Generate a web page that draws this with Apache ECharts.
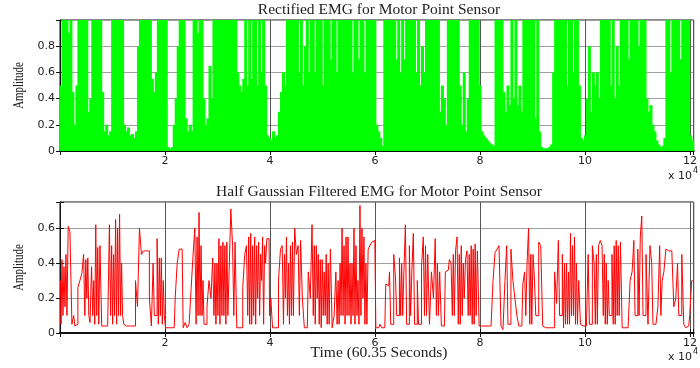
<!DOCTYPE html>
<html>
<head>
<meta charset="utf-8">
<title>Motor Point Sensor EMG</title>
<script src="https://cdn.jsdelivr.net/npm/echarts@6/dist/echarts.min.js"></script>
<style>
  html, body { margin: 0; padding: 0; background: #fff; }
  #chart { width: 700px; height: 368px; }
</style>
</head>
<body>
<div id="chart"></div>
<script>
// Recording length: 60.35 s sampled at 2 kHz
const totalSamples = 120700;

// Rectified EMG: burst peak per window (values clip at 1)
const rectPeak = [
  0.5,
  1, 1, 1, 0.9, 1,
  0.45, 0.2, 0.5,
  1, 1, 1, 1, 1,
  0.3, 0.4,
  1, 1, 1, 1, 1,
  0.45, 0.15, 0.2, 0.12, 0.15,
  1, 1, 1, 1, 1, 1,
  0.2, 0.15, 0.18, 0.12, 0.13,
  0.1, 0.15, 0.8,
  1, 1, 1, 1, 1, 1,
  0.55, 0.45, 0.6,
  1, 1, 1, 1, 1,
  0.03, 0.02, 0.03,
  0.2, 0.4, 0.8,
  1, 1, 1,
  0.25, 0.15, 0.2, 0.15,
  1, 1, 0.9, 1, 1,
  0.4, 0.2, 0.25, 0.65, 0.4,
  1, 1, 1, 1, 1, 1, 1, 1, 1, 1, 1, 1,
  0.6, 0.5, 0.45, 0.55,
  1, 0.5, 1, 0.55, 1, 1, 0.5, 1, 0.6, 1, 0.5,
  0.12, 0.1, 0.08, 0.15, 0.1, 0.12,
  0.3, 0.45, 0.6, 0.5,
  1, 1, 1, 1, 1, 1,
  0.6, 1, 0.5, 0.8, 1, 0.6,
  1, 1, 0.6, 1, 1, 1, 0.5, 1, 1, 1, 0.7, 1, 1, 0.6, 1, 1, 1, 1, 1,
  1, 1, 0.6, 1, 1, 0.7, 1, 1, 0.6, 1, 1, 1, 1, 1,
  0.2, 0.15, 0.1, 0.04,
  1, 1, 1, 1, 1, 1,
  0.7, 1, 0.6, 1, 0.7,
  1, 1, 1, 1, 1,
  0.6, 1, 0.5, 0.8, 0.6,
  1, 1, 1, 1, 1, 1, 1,
  0.3, 0.5, 0.4, 0.2,
  1, 1, 1, 1, 1, 1,
  0.5, 0.2, 0.6, 0.15, 0.4,
  1, 1, 1, 1, 1, 0.5,
  0.15, 0.12, 0.1, 0.08, 0.06, 0.05, 0.04,
  1, 1, 1, 1,
  0.45, 0.3, 0.5, 0.35,
  1, 0.4, 1,
  0.35, 0.5, 0.3,
  1, 1, 1, 1, 1, 1,
  0.25, 1, 0.15,
  0.03, 0.02, 0.02, 0.02, 0.03, 0.05,
  0.6, 1, 1, 1, 1, 1,
  1, 0.5, 1, 1, 0.6, 1, 1, 0.5,
  0.1, 0.08, 0.12,
  0.4, 0.8, 0.3, 0.6, 0.5, 0.6, 0.4,
  1, 1, 1, 1, 1,
  0.5, 1, 0.4, 0.8, 0.5, 1,
  1, 1, 1, 0.7, 1, 1, 1, 1, 0.8, 1, 1, 1,
  0.4, 0.3, 0.35, 0.2, 0.15, 0.08, 0.05,
  0.03, 0.04, 0.1,
  1, 1, 0.6, 1, 1, 1, 1, 0.7, 1, 1, 1, 1,
  0.12, 0.08
];

// Half-Gaussian filtered EMG per window: a single level, or [high, low]
// where the output switches within the window
const gaussLevel = [
  [0.3, 0.05],
  [0.42, 0.1], [0.38, 0.15],
  [0.45, 0.1],
  0.61, 0.58,
  0.05, [0.1, 0.04], 0.05,
  0.26, 0.3, 0.34,
  [0.45, 0.1], [0.42, 0.2],
  [0.43, 0.1], 0.06,
  [0.38, 0.1], [0.3, 0.05],
  [0.62, 0.1], [0.49, 0.05],
  0.5,
  0.04, 0.04, 0.04, 0.04,
  [0.62, 0.1], [0.5, 0.05], [0.45, 0.1],
  [0.65, 0.05], [0.6, 0.1], [0.68, 0.1],
  [0.4, 0.1], 0.05,
  0.04, 0.04, 0.04, 0.04, 0.04,
  0.3,
  0.15,
  0.6, 0.45,
  0.47, 0.47, 0.47,
  0.2, 0.04,
  [0.4, 0.1], 0.1,
  [0.54, 0.05], [0.43, 0.1], [0.43, 0.05], [0.3, 0.1],
  0.03, 0.03, 0.03, 0.03, 0.03,
  0.2, 0.4,
  0.48, 0.48,
  0.03, 0.06, 0.03, 0.05,
  0.25, 0.45,
  [0.6, 0.05], [0.55, 0.1], [0.69, 0.1], [0.5, 0.1],
  [0.3, 0.05], 0.05, 0.15,
  0.3, 0.2,
  [0.43, 0.1], [0.4, 0.05], [0.4, 0.1],
  [0.54, 0.05], [0.5, 0.1], [0.52, 0.1], [0.5, 0.05], [0.52, 0.1],
  0.35, 0.71,
  [0.5, 0.1], 0.52,
  0.03, 0.03, 0.03,
  0.26, 0.45,
  [0.5, 0.1], [0.55, 0.05], [0.57, 0.05], [0.5, 0.1], [0.55, 0.05], [0.5, 0.2],
  [0.52, 0.1], [0.45, 0.3], [0.55, 0.05], [0.5, 0.4],
  0.54, [0.54, 0.1],
  0.2,
  0.03, 0.03, 0.03,
  0.3, 0.48,
  [0.5, 0.05], [0.45, 0.2], [0.55, 0.1],
  [0.4, 0.05], [0.5, 0.1], [0.52, 0.1],
  0.6, 0.45,
  [0.5, 0.1], 0.53, 0.2,
  0.03, 0.03,
  0.35, 0.2,
  [0.62, 0.1], [0.5, 0.05], [0.5, 0.2],
  [0.45, 0.05], [0.42, 0.03], [0.42, 0.1], [0.35, 0.1],
  [0.45, 0.05], [0.4, 0.05], 0.48,
  0.03, 0.1,
  [0.35, 0.05], [0.3, 0.05], [0.4, 0.1],
  [0.6, 0.1], [0.5, 0.05], [0.55, 0.1],
  [0.55, 0.1], [0.4, 0.05], [0.4, 0.1],
  [0.6, 0.05], [0.5, 0.1], [0.3, 0.05],
  [0.73, 0.1], [0.6, 0.2],
  [0.55, 0.05], [0.4, 0.05],
  0.48, 0.5, 0.52, 0.53,
  0.03, 0.03, 0.05, 0.03, 0.03,
  0.28, 0.27,
  [0.35, 0.05], 0.05, 0.45,
  [0.32, 0.1], 0.1,
  [0.43, 0.1], [0.4, 0.1], 0.35,
  [0.62, 0.05], 0.05,
  [0.5, 0.1], 0.35,
  [0.57, 0.05], 0.05,
  [0.3, 0.05], 0.05, 0.38,
  [0.55, 0.1], [0.5, 0.1], 0.45,
  0.05, 0.35,
  0.2, [0.54, 0.1],
  [0.4, 0.1], 0.35,
  0.04, 0.04,
  0.35, 0.36, 0.42,
  [0.4, 0.1], [0.45, 0.1], 0.47,
  [0.55, 0.05], [0.45, 0.05], [0.5, 0.1],
  [0.4, 0.2], 0.42,
  [0.47, 0.1], [0.45, 0.1], [0.5, 0.05], [0.48, 0.05], [0.51, 0.1], 0.47,
  0.04, 0.04, 0.04, 0.04, 0.04, 0.04, 0.04,
  0.3, 0.46,
  0.48, 0.5,
  0.04, 0.02,
  0.3,
  [0.5, 0.05], 0.05, 0.48,
  0.3, 0.2,
  0.1, 0.04, 0.04,
  0.28, [0.35, 0.1], 0.4,
  [0.6, 0.05], [0.45, 0.05], 0.45,
  [0.3, 0.1], 0.1, 0.52,
  0.5, 0.04,
  0.03, 0.03, 0.03, 0.03, 0.03,
  0.35, 0.17,
  [0.53, 0.1], 0.1,
  [0.45, 0.03], [0.4, 0.05], [0.4, 0.05], [0.35, 0.05],
  [0.57, 0.1], [0.5, 0.1], [0.55, 0.05], [0.4, 0.05],
  0.3, 0.05,
  0.04, 0.04, 0.04,
  [0.45, 0.05], 0.05, 0.5,
  [0.4, 0.05], [0.45, 0.05], 0.5,
  0.53, [0.5, 0.1],
  [0.45, 0.05], [0.4, 0.05], [0.3, 0.1], 0.1,
  [0.45, 0.05], [0.5, 0.05], [0.53, 0.1], [0.5, 0.1], 0.52,
  0.03, 0.03, 0.03, 0.03,
  0.3, 0.35,
  [0.53, 0.1], 0.1,
  [0.48, 0.1], 0.55,
  [0.67, 0.1], 0.1,
  0.45,
  0.05, 0.5,
  [0.4, 0.05], 0.05,
  0.05, 0.15,
  [0.5, 0.1], 0.3,
  0.35,
  0.48, 0.47, 0.47, 0.47,
  0.15, 0.2,
  [0.4, 0.1], 0.1,
  0.45,
  0.05, 0.03, 0.04,
  0.1, 0.3
];

// Axis ticks
const timeTicks = [20000, 40000, 60000, 80000, 100000, 120000];
const timeTickLabels = ['2', '4', '6', '8', '10', '12'];
const rectAmpTicks = [0, 0.2, 0.4, 0.6, 0.8];
const gaussAmpTicks = [0, 0.2, 0.4, 0.6];

// Build the plotted points from the per-window values
const rectWin = totalSamples / rectPeak.length;
const rectData = rectPeak.map(function (p, i) { return [(i + 0.5) * rectWin, p]; });

const gaussWin = totalSamples / gaussLevel.length;
const gaussData = [];
gaussLevel.forEach(function (v, i) {
  if (Array.isArray(v)) {
    gaussData.push([(i + 0.25) * gaussWin, v[0]]);
    gaussData.push([(i + 0.75) * gaussWin, v[1]]);
  } else {
    gaussData.push([(i + 0.5) * gaussWin, v]);
  }
});

const serif = '"Liberation Serif", "Times New Roman", serif';
const sans = '"DejaVu Sans", Arial, sans-serif';

function timeLabel(v) {
  const k = timeTicks.indexOf(Math.round(v));
  return k >= 0 ? timeTickLabels[k] : '';
}
function ampLabel(list) {
  return function (v) {
    const r = Math.round(v * 100) / 100;
    return list.indexOf(r) >= 0 ? String(r) : '';
  };
}

function mainX(gridIndex) {
  return {
    type: 'value', gridIndex: gridIndex, min: 0, max: totalSamples, interval: 20000,
    axisLine: { show: true, onZero: false, lineStyle: { color: '#111', width: 2 } },
    axisTick: { show: true, inside: true, length: 4, lineStyle: { color: '#111' } },
    axisLabel: { color: '#222', fontFamily: sans, fontSize: 11, margin: 5, formatter: timeLabel },
    splitLine: { show: true, lineStyle: { color: '#555', width: 1 } }
  };
}
function topX(gridIndex) {
  return {
    type: 'value', gridIndex: gridIndex, position: 'top', min: 0, max: totalSamples, interval: 20000,
    axisLine: { show: false }, axisLabel: { show: false }, splitLine: { show: false },
    axisTick: { show: true, inside: true, length: 4, lineStyle: { color: '#111' } }
  };
}
function mainY(gridIndex, max, ticks) {
  return {
    type: 'value', gridIndex: gridIndex, min: 0, max: max, interval: 0.2,
    axisLine: { show: true, onZero: false, lineStyle: { color: '#111', width: 1 } },
    axisTick: { show: true, inside: true, length: 4, lineStyle: { color: '#111' } },
    axisLabel: { color: '#222', fontFamily: sans, fontSize: 11, margin: 5, formatter: ampLabel(ticks) },
    splitLine: { show: true, lineStyle: { color: '#a0a0a0', width: 1 } }
  };
}
function rightY(gridIndex, max) {
  return {
    type: 'value', gridIndex: gridIndex, position: 'right', min: 0, max: max, interval: 0.2,
    axisLine: { show: false }, axisLabel: { show: false }, splitLine: { show: false },
    axisTick: { show: true, inside: true, length: 4, lineStyle: { color: '#111' } }
  };
}

function serifText(text, y) {
  return {
    type: 'text', x: 379, y: y, silent: true,
    style: { text: text, align: 'center', verticalAlign: 'middle',
      fontFamily: serif, fontSize: 15.5, fill: '#222' }
  };
}
// Narrow rotated axis caption
function ampCaption(y) {
  return {
    type: 'text', x: 19, y: y, rotation: Math.PI / 2, scaleX: 0.78, silent: true,
    style: { text: 'Amplitude', align: 'center', verticalAlign: 'middle',
      fontFamily: serif, fontSize: 14, fill: '#222' }
  };
}
function exponentMark(y) {
  return [
    { type: 'text', x: 692, y: y, silent: true,
      style: { text: 'x 10', align: 'right', verticalAlign: 'middle', fontFamily: sans, fontSize: 11, fill: '#222' } },
    { type: 'text', x: 693, y: y - 5, silent: true,
      style: { text: '4', align: 'left', verticalAlign: 'middle', fontFamily: sans, fontSize: 8, fill: '#222' } }
  ];
}

const chart = echarts.init(document.getElementById('chart'), null, { renderer: 'canvas' });
chart.setOption({
  animation: false,
  backgroundColor: '#fff',
  grid: [
    { left: 60, top: 20, width: 638, height: 131, show: true, borderColor: '#111', borderWidth: 1, backgroundColor: 'transparent' },
    { left: 60, top: 202, width: 638, height: 131, show: true, borderColor: '#111', borderWidth: 1, backgroundColor: 'transparent' }
  ],
  xAxis: [mainX(0), mainX(1), topX(0), topX(1)],
  yAxis: [mainY(0, 1, rectAmpTicks), mainY(1, 0.75, gaussAmpTicks), rightY(0, 1), rightY(1, 0.75)],
  graphic: [
    serifText('Rectified EMG for Motor Point Sensor', 10),
    serifText('Half Gaussian Filtered EMG for Motor Point Sensor', 192),
    serifText('Time (60.35 Seconds)', 353),
    ampCaption(85.5),
    ampCaption(267.5)
  ].concat(exponentMark(176), exponentMark(357)),
  series: [
    {
      name: 'Rectified EMG', type: 'bar', xAxisIndex: 0, yAxisIndex: 0,
      data: rectData, barWidth: 3, barGap: '-100%', clip: true,
      itemStyle: { color: '#00ff00' }
    },
    {
      name: 'Half Gaussian Filtered EMG', type: 'line', xAxisIndex: 1, yAxisIndex: 1,
      data: gaussData, step: 'middle', showSymbol: false, symbol: 'none', clip: true,
      lineStyle: { color: '#ff0000', width: 1 }, itemStyle: { color: '#ff0000' }
    }
  ]
});
</script>
</body>
</html>
